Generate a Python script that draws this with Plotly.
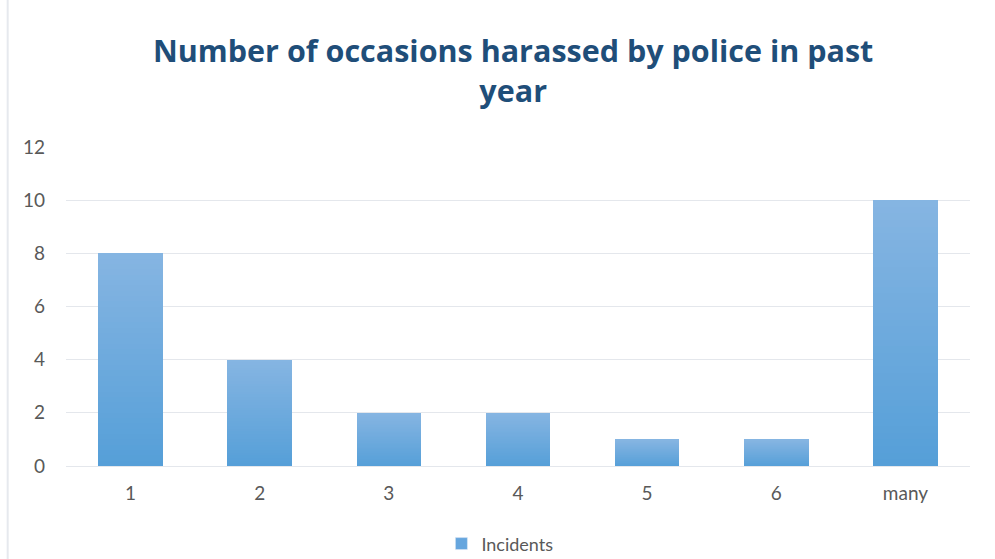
import plotly.graph_objects as go

# Survey responses: how many times each respondent was harassed by police
categories = ["1", "2", "3", "4", "5", "6", "many"]
incidents = [8, 4, 2, 2, 1, 1, 10]
y_ticks = [0, 2, 4, 6, 8, 10, 12]

TITLE = "Number of occasions harassed by police in past<br>year"
SERIES = "Incidents"

# Vertical gradient for each bar: lighter at the top, deeper blue at the base
TOP_RGB = (134, 181, 226)
BOTTOM_RGB = (85, 159, 216)
N_SEG = 40


def mix(t):
    r, g, b = (round(BOTTOM_RGB[i] + (TOP_RGB[i] - BOTTOM_RGB[i]) * t) for i in range(3))
    return f"rgb({r},{g},{b})"


fig = go.Figure()
for k in range(N_SEG):
    t = (k + 0.5) / N_SEG
    fig.add_trace(go.Bar(
        x=categories,
        y=[v / N_SEG for v in incidents],
        marker=dict(color=mix(t), line=dict(width=0)),
        width=0.5,
        showlegend=False,
        hoverinfo="skip",
    ))

# Single legend entry for the series
fig.add_trace(go.Bar(
    x=[categories[0]], y=[None], name=SERIES,
    marker=dict(color="rgb(102,166,222)"),
    showlegend=True,
))

fig.update_layout(
    barmode="stack",
    bargap=0,
    width=995,
    height=559,
    margin=dict(l=66, r=25, t=147, b=93, autoexpand=False),
    paper_bgcolor="white",
    plot_bgcolor="white",
    font=dict(family="Lato, 'Open Sans', sans-serif", color="#595959", size=18),
    xaxis=dict(
        type="category",
        showgrid=False,
        showline=False,
        ticks="",
        tickfont=dict(size=19, color="#595959"),
        ticklabelstandoff=14,
    ),
    yaxis=dict(
        range=[0, 12],
        tickvals=y_ticks,
        showgrid=True,
        gridcolor="#e4e7ec",
        gridwidth=1.3,
        zeroline=True,
        zerolinecolor="#e4e7ec",
        zerolinewidth=1.3,
        showline=False,
        ticks="",
        tickfont=dict(size=19, color="#595959"),
        ticklabelstandoff=20,
    ),
    legend=dict(
        orientation="h",
        x=0.48, xanchor="center",
        yref="container",
        y=0.027, yanchor="middle",
        font=dict(size=18, color="#595959"),
        itemwidth=30,
    ),
    annotations=[dict(
        text=TITLE,
        xref="paper", yref="paper",
        x=0.495, xanchor="center",
        y=1.24, yanchor="middle",
        showarrow=False,
        align="center",
        font=dict(family="'Open Sans', sans-serif", size=30.5, color="#1f4e79", weight=700),
    )],
    shapes=[dict(
        type="line", xref="paper", yref="paper",
        x0=-0.0645, x1=-0.0645, y0=-0.5, y1=1.5,
        line=dict(color="#e6e9ee", width=2),
    )],
)

fig.write_html("out.html")
